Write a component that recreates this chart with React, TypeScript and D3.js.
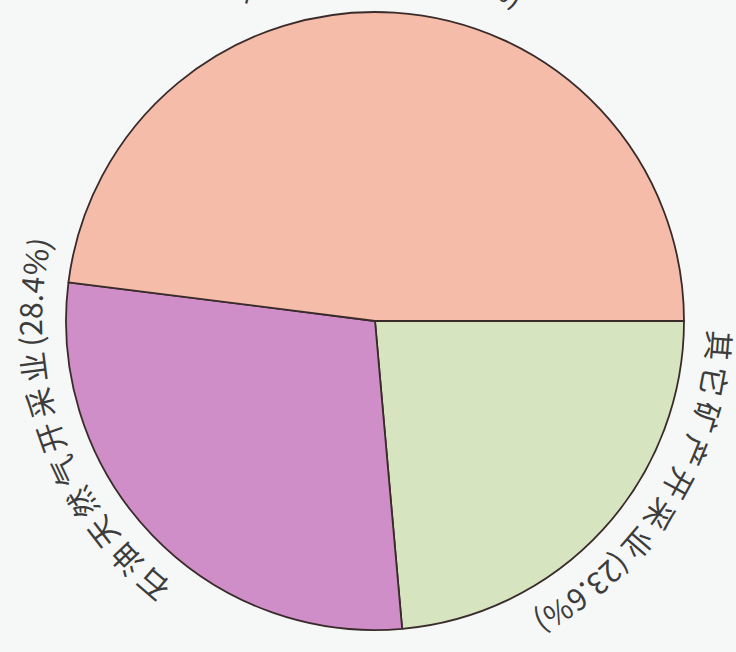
import React from "react";
import * as d3 from "d3";

const categories = ["其它矿产开采业", "石油天然气开采业", "煤炭开采业"];
const values = [23.6, 28.4, 48.0];
const colors = ["#d7e4c0", "#d08ec9", "#f4bca9"];

const W = 736;
const H = 652;
const CX = 375;
const CY = 321;
const R = 309;

// label placement (layout only): angle in degrees clockwise from 12 o'clock
const labelLayout = [
  { start: 91.5, radius: 333, anchor: "start" },
  { start: 217.5, radius: 333, anchor: "start" },
  { center: 1, radius: 344, anchor: "middle" },
];

function pt(deg: number, r: number): [number, number] {
  const a = (deg * Math.PI) / 180;
  return [CX + r * Math.sin(a), CY - r * Math.cos(a)];
}

function arcPath(a0: number, a1: number, r: number) {
  const [x0, y0] = pt(a0, r);
  const [x1, y1] = pt(a1, r);
  const large = a1 - a0 > 180 ? 1 : 0;
  return `M${x0},${y0} A${r},${r} 0 ${large} 1 ${x1},${y1}`;
}

export default function App() {
  const pie = d3
    .pie<number>()
    .sort(null)
    .startAngle(Math.PI / 2)
    .endAngle(Math.PI / 2 + 2 * Math.PI)(values);
  const arc = d3.arc<d3.PieArcDatum<number>>().innerRadius(0).outerRadius(R);

  return (
    <svg
      width={W}
      height={H}
      style={{ position: "fixed", left: 0, top: 0, background: "#f6f7f7" }}
    >
      <rect x={0} y={0} width={W} height={H} fill="#f6f7f7" />
      <g transform={`translate(${CX},${CY})`}>
        {pie.map((d, i) => (
          <path
            key={i}
            d={arc(d) || ""}
            fill={colors[i]}
            stroke="#3a2b2b"
            strokeWidth={1.8}
            strokeLinejoin="round"
          />
        ))}
      </g>
      <defs>
        {labelLayout.map((l, i) => {
          const d =
            l.anchor === "middle"
              ? arcPath((l.center as number) - 90, (l.center as number) + 90, l.radius)
              : arcPath(l.start as number, (l.start as number) + 170, l.radius);
          return <path key={i} id={`lp${i}`} d={d} fill="none" />;
        })}
      </defs>
      {labelLayout.map((l, i) => (
        <text
          key={i}
          fontFamily="'Noto Sans CJK SC', 'Noto Sans', sans-serif"
          fontSize={30}
          fill="#3c3c3c"
          textAnchor={l.anchor}
        >
          <textPath href={`#lp${i}`} startOffset={l.anchor === "middle" ? "50%" : "0"}>
            <tspan letterSpacing={5}>{categories[i]}</tspan>
            <tspan letterSpacing={0}>{`(${values[i].toFixed(1)}%)`}</tspan>
          </textPath>
        </text>
      ))}
    </svg>
  );
}
